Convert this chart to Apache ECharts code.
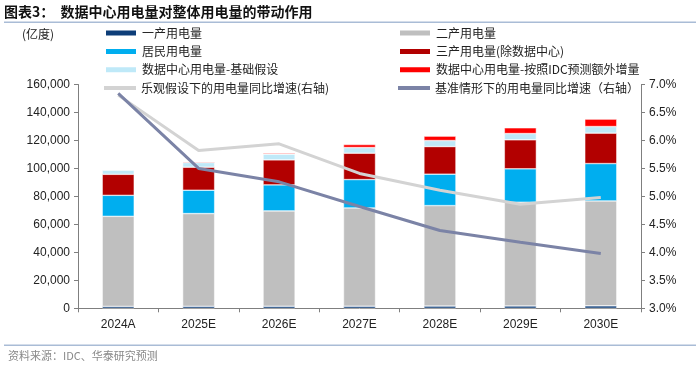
<!DOCTYPE html>
<html>
<head>
<meta charset="utf-8">
<script src="https://cdn.jsdelivr.net/npm/echarts@6/dist/echarts.min.js"></script>
<style>
html,body{margin:0;padding:0;background:#fff;}
#chart{width:700px;height:368px;}
</style>
</head>
<body>
<div id="chart"></div>
<script>
const categories = ['2024A','2025E','2026E','2027E','2028E','2029E','2030E'];
const primary = [1357, 1420, 1480, 1550, 1620, 1690, 1760];
const secondary = [64400, 66300, 68150, 70230, 71800, 74160, 75020];
const residential = [15000, 16740, 18600, 20250, 22470, 23830, 26700];
const tertiaryExDC = [15030, 16460, 17890, 18890, 19750, 20760, 21750];
const dcBase = [3080, 3290, 4080, 4010, 4290, 4500, 4720];
const dcExtra = [0, 500, 720, 2140, 3150, 4080, 5300];
const growthOptimistic = [6.81, 5.82, 5.94, 5.41, 5.11, 4.86, 4.98];
const growthBaseline = [6.84, 5.50, 5.26, 4.82, 4.39, 4.18, 3.98];
const leftTicks = {min: 0, max: 160000, interval: 20000};
const rightTicks = {min: 3, max: 7, interval: 0.5};

const names = ['一产用电量','二产用电量','居民用电量','三产用电量(除数据中心)','数据中心用电量-基础假设','数据中心用电量-按照IDC预测额外增量','乐观假设下的用电量同比增速(右轴)','基准情形下的用电量同比增速（右轴）'];
const colors = ['#0d3d78','#bfbfbf','#00aeef','#b20000','#bfe9f8','#ff0000','#d3d3d3','#7b83a6'];

const font = '"Noto Sans CJK SC", sans-serif';
const numFont = '"Liberation Sans", Arial, sans-serif';

function bar(i, data){
  return {name:names[i], type:'bar', stack:'total', data:data, barWidth:32,
    itemStyle:{color:colors[i], borderColor:'#ffffff', borderWidth:0.5}, z:2};
}
function line(i, data){
  return {name:names[i], type:'line', yAxisIndex:1, data:data, symbol:'none',
    lineStyle:{color:colors[i], width:3}, itemStyle:{color:colors[i]}, z:5};
}

const chart = echarts.init(document.getElementById('chart'), null, {renderer:'canvas'});
function legend(left, top, items, h){
  return {orient:'vertical', left:left, top:top, padding:0, itemWidth:32, itemHeight:h, itemGap:4.4,
    textStyle:{fontFamily:font, fontSize:12, color:'#222', lineHeight:14}, selectedMode:false,
    data:items.map(n=>({name:n, icon:'rect'}))};
}
chart.setOption({
  animation:false,
  backgroundColor:'#fff',
  grid:{left:78, right:59, top:84.5, bottom:59.7},
  legend:[
    legend(104, 26, [names[0], names[2], names[4]], 7),
    legend(398, 26, [names[1], names[3], names[5]], 7),
    legend(104, 81, [names[6]], 4),
    legend(398, 81, [names[7]], 4)
  ],
  xAxis:{type:'category', data:categories,
    axisLine:{lineStyle:{color:'#7f7f7f', width:1}},
    axisTick:{show:true, lineStyle:{color:'#7f7f7f'}, length:4},
    axisLabel:{fontFamily:numFont, fontSize:12, color:'#222', margin:10}},
  yAxis:[
    {type:'value', min:leftTicks.min, max:leftTicks.max, interval:leftTicks.interval,
      axisLine:{show:true, lineStyle:{color:'#7f7f7f'}},
      axisTick:{show:true, length:4, lineStyle:{color:'#7f7f7f'}},
      splitLine:{show:false},
      axisLabel:{fontFamily:numFont, fontSize:12, color:'#222', margin:8,
        formatter:v=>v.toLocaleString('en-US')}},
    {type:'value', min:rightTicks.min, max:rightTicks.max, interval:rightTicks.interval,
      axisLine:{show:true, lineStyle:{color:'#7f7f7f'}},
      axisTick:{show:true, length:4, lineStyle:{color:'#7f7f7f'}},
      splitLine:{show:false},
      axisLabel:{fontFamily:numFont, fontSize:12, color:'#222', margin:8,
        formatter:v=>v.toFixed(1)+'%'}}
  ],
  series:[
    bar(0, primary), bar(1, secondary), bar(2, residential), bar(3, tertiaryExDC),
    bar(4, dcBase), bar(5, dcExtra),
    line(6, growthOptimistic), line(7, growthBaseline)
  ],
  graphic:[
    {type:'text', left:4, top:5, style:{text:'图表3：  数据中心用电量对整体用电量的带动作用', fontFamily:font, fontSize:14, fontWeight:'bold', fill:'#111'}},
    {type:'rect', shape:{x:4, y:21.5, width:692, height:1.5}, style:{fill:'#a9bcd6'}},
    {type:'text', left:22, top:28, style:{text:'(亿度)', fontFamily:font, fontSize:12, fill:'#222'}},
    {type:'rect', shape:{x:4, y:344.5, width:692, height:1.5}, style:{fill:'#a9bcd6'}},
    {type:'text', left:8, top:350, style:{text:'资料来源：IDC、华泰研究预测', fontFamily:font, fontSize:11, fill:'#8a8a8a'}}
  ]
});
</script>
</body>
</html>
